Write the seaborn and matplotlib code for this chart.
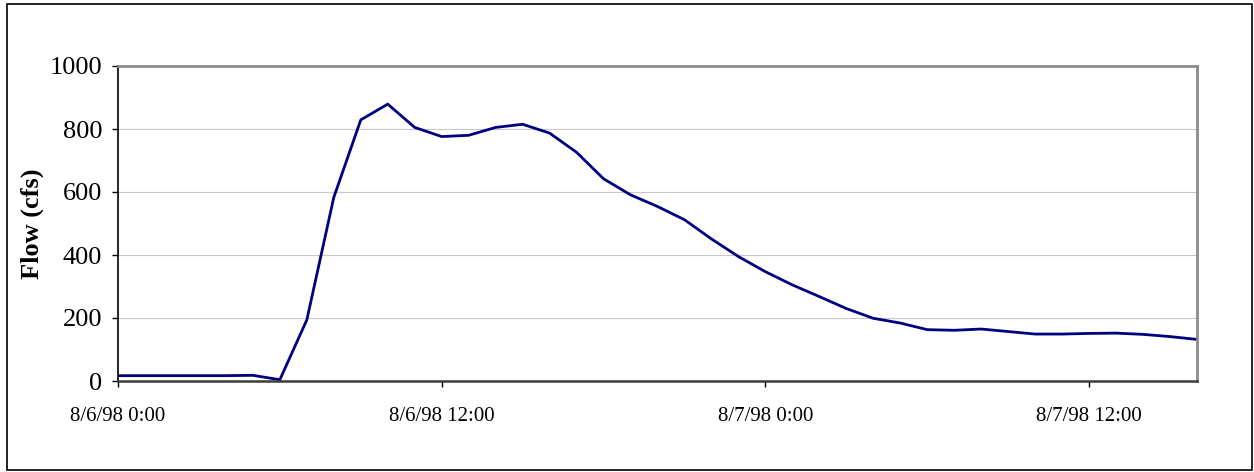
import matplotlib
matplotlib.use("Agg")
import matplotlib.pyplot as plt
import seaborn as sns
import pandas as pd
from matplotlib.patches import Rectangle

# Hourly streamflow, starting 8/6/98 0:00
hours = list(range(41))
flow_cfs = [17, 17, 17, 17, 17, 18, 4, 194, 583, 829,
            879, 805, 776, 780, 805, 815, 787, 726, 642, 591,
            554, 512, 451, 395, 347, 305, 268, 230, 199, 184,
            163, 161, 165, 157, 149, 149, 151, 152, 148, 141,
            132]

tick_hours = [0, 12, 24, 36]
tick_labels = ["8/6/98 0:00", "8/6/98 12:00", "8/7/98 0:00", "8/7/98 12:00"]
y_ticks = [0, 200, 400, 600, 800, 1000]

sns.set_theme(style="white", rc={"text.color": "black", "axes.labelcolor": "black",
                                 "xtick.color": "black", "ytick.color": "black"})
plt.rcParams["font.family"] = ["Liberation Serif", "DejaVu Serif"]

W, H = 1254, 472
fig = plt.figure(figsize=(W / 100, H / 100), dpi=100)
left, right, top, bottom = 118, 1197, 66, 381
ax = fig.add_axes([left / W, 1 - bottom / H, (right - left) / W, (bottom - top) / H])

df = pd.DataFrame({"hour": hours, "flow": flow_cfs})
sns.lineplot(data=df, x="hour", y="flow", ax=ax, color="#000080", linewidth=2.0)

ax.set_xlim(0, 40)
ax.set_ylim(0, 1000)
ax.set_xticks(tick_hours)
ax.set_xticklabels(tick_labels, fontsize=15)
ax.set_yticks(y_ticks)
ax.set_yticklabels([str(v) for v in y_ticks], fontsize=19)
ax.set_xlabel("")
ax.set_ylabel("Flow (cfs)", fontsize=19, fontweight="bold")
ax.yaxis.set_label_coords((32 - left) / (right - left), (bottom - 224) / (bottom - top))
ax.yaxis.label.set_va("center")

ax.grid(axis="y", color="#c8c8c8", linewidth=0.8)
ax.grid(axis="x", visible=False)

ax.tick_params(axis="x", direction="out", length=4.5, width=1, color="black", pad=14, bottom=True)
ax.tick_params(axis="y", direction="out", length=4.5, width=1, color="black", pad=7, left=True)

for side in ("top", "right"):
    ax.spines[side].set_color("#8c8c8c")
    ax.spines[side].set_linewidth(2.0)
ax.spines["left"].set_color("black")
ax.spines["left"].set_linewidth(1.2)
ax.spines["bottom"].set_color("#3c3c3c")
ax.spines["bottom"].set_linewidth(1.8)

# Outer chart frame
fig.patches.append(Rectangle((7 / W, 1 - 470 / H), (1252 - 7) / W, (470 - 4) / H,
                             transform=fig.transFigure, fill=False,
                             edgecolor="black", linewidth=1.2))

fig.savefig("out.png", dpi=100, facecolor="white")
